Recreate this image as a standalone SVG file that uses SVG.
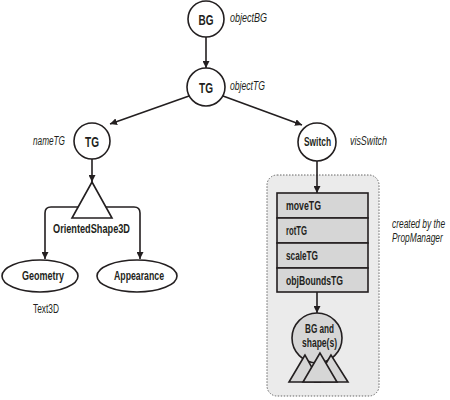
<svg xmlns="http://www.w3.org/2000/svg" width="450" height="400" viewBox="0 0 450 400">
<style>
text{font-family:"Liberation Sans",Arial,sans-serif;fill:#231f20}
.b{font-weight:bold;font-size:12px}
.big{font-weight:bold;font-size:15px}
.i{font-style:italic;font-size:12px}
.n{font-size:12px}
.node{fill:#fff;stroke:#231f20;stroke-width:1.6}
.g{fill:#d6d6d6;stroke:#231f20;stroke-width:1.6}
.c{fill:none;stroke:#231f20;stroke-width:1.6}
</style>
<defs>
<marker id="ah" viewBox="0 0 10 10" refX="10" refY="5" markerWidth="7" markerHeight="7" markerUnits="userSpaceOnUse" orient="auto"><path d="M0,0L10,5L0,10z" fill="#231f20"/></marker>
</defs>
<g id="container">
<rect x="267" y="175" width="112" height="221" rx="10" fill="#ebebeb" stroke="#666" stroke-width="1" stroke-dasharray="1.5,1.5"/>
</g>
<g id="connectors">
<line class="c" x1="206" y1="37" x2="206" y2="68" marker-end="url(#ah)"/>
<line class="c" x1="189" y1="96" x2="110" y2="124" marker-end="url(#ah)"/>
<line class="c" x1="223" y1="96" x2="302" y2="125" marker-end="url(#ah)"/>
<line class="c" x1="92" y1="159" x2="92" y2="182" marker-end="url(#ah)"/>
<path class="c" d="M78,207H51Q45,207 45,213V259" marker-end="url(#ah)"/>
<path class="c" d="M106,207H134Q140,207 140,213V259" marker-end="url(#ah)"/>
<line class="c" x1="317" y1="161" x2="317" y2="193" marker-end="url(#ah)"/>
<line class="c" x1="317" y1="292" x2="317" y2="313" marker-end="url(#ah)"/>
</g>
<g id="BG">
<circle class="node" cx="206" cy="19" r="18"/>
<text class="big" x="206" y="24.5" text-anchor="middle" textLength="15" lengthAdjust="spacingAndGlyphs">BG</text>
<text class="i" x="230" y="22" textLength="37" lengthAdjust="spacingAndGlyphs">objectBG</text>
</g>
<g id="objectTG">
<circle class="node" cx="206" cy="87" r="19"/>
<text class="big" x="206" y="92.5" text-anchor="middle" textLength="14" lengthAdjust="spacingAndGlyphs">TG</text>
<text class="i" x="230" y="90" textLength="35" lengthAdjust="spacingAndGlyphs">objectTG</text>
</g>
<g id="nameTG">
<circle class="node" cx="92" cy="141" r="18"/>
<text class="big" x="92" y="146.5" text-anchor="middle" textLength="14" lengthAdjust="spacingAndGlyphs">TG</text>
<text class="i" x="33" y="145" textLength="32" lengthAdjust="spacingAndGlyphs">nameTG</text>
</g>
<g id="OrientedShape3D">
<polygon class="node" points="92,182 72,218 112,218"/>
<text class="b" x="53" y="233" textLength="77" lengthAdjust="spacingAndGlyphs">OrientedShape3D</text>
</g>
<g id="Geometry">
<ellipse class="node" cx="40" cy="276" rx="38" ry="16"/>
<text class="b" x="22" y="280" textLength="42" lengthAdjust="spacingAndGlyphs">Geometry</text>
<text class="n" x="33" y="313" textLength="26" lengthAdjust="spacingAndGlyphs">Text3D</text>
</g>
<g id="Appearance">
<ellipse class="node" cx="137" cy="276" rx="40" ry="16"/>
<text class="b" x="114" y="280" textLength="50" lengthAdjust="spacingAndGlyphs">Appearance</text>
</g>
<g id="Switch">
<circle class="node" cx="317" cy="142" r="19"/>
<text class="b" x="304" y="146" textLength="27" lengthAdjust="spacingAndGlyphs">Switch</text>
<text class="i" x="350" y="145" textLength="37" lengthAdjust="spacingAndGlyphs">visSwitch</text>
</g>
<g id="moveTG">
<rect class="g" x="277" y="193" width="91" height="25"/>
<text class="b" x="286" y="209.5" textLength="35" lengthAdjust="spacingAndGlyphs">moveTG</text>
</g>
<g id="rotTG">
<rect class="g" x="277" y="218" width="91" height="25"/>
<text class="b" x="286" y="234.5" textLength="21" lengthAdjust="spacingAndGlyphs">rotTG</text>
</g>
<g id="scaleTG">
<rect class="g" x="277" y="243" width="91" height="25"/>
<text class="b" x="286" y="259.5" textLength="32" lengthAdjust="spacingAndGlyphs">scaleTG</text>
</g>
<g id="objBoundsTG">
<rect class="g" x="277" y="268" width="91" height="24"/>
<text class="b" x="286" y="284.5" textLength="57" lengthAdjust="spacingAndGlyphs">objBoundsTG</text>
</g>
<g id="BGshapes">
<circle class="g" cx="317" cy="338" r="25"/>
<polygon class="g" points="305,355 289,382 320,382"/>
<polygon class="g" points="331,355 315,382 348,382"/>
<polygon class="g" points="320,353 303,382 337,382"/>
<text class="b" x="305" y="333" textLength="29" lengthAdjust="spacingAndGlyphs">BG and</text>
<text class="b" x="302" y="347" textLength="35" lengthAdjust="spacingAndGlyphs">shape(s)</text>
</g>
<g id="note">
<text class="i" transform="translate(392,228) scale(0.7,1)">created by the</text>
<text class="i" transform="translate(392,242) scale(0.7,1)">PropManager</text>
</g>
</svg>
